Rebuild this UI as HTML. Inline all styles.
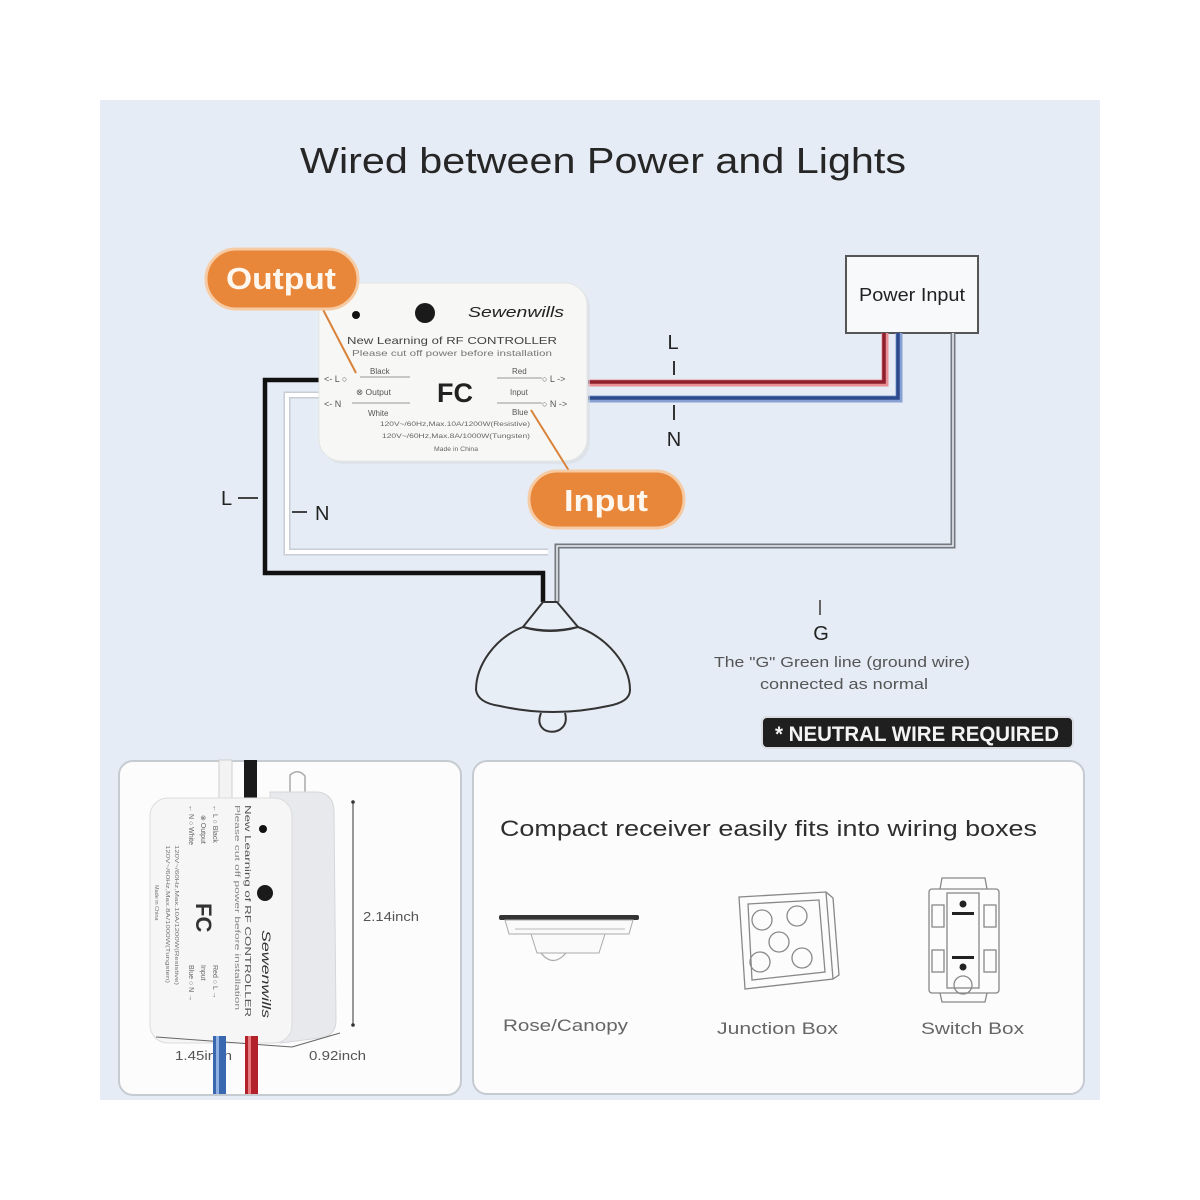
<!DOCTYPE html>
<html><head><meta charset="utf-8"><style>
html,body{margin:0;padding:0;background:#fff;}
svg{display:block;}
text{font-family:"Liberation Sans",sans-serif;}
</style></head><body>
<svg width="1200" height="1200" viewBox="0 0 1200 1200" xmlns="http://www.w3.org/2000/svg">
<rect x="0" y="0" width="1200" height="1200" fill="#ffffff"/>
<rect x="100" y="100" width="1000" height="1000" fill="#e5ecf5"/>

<!-- Title -->
<text x="603" y="173" font-size="36" fill="#262626" text-anchor="middle" textLength="606" lengthAdjust="spacingAndGlyphs">Wired between Power and Lights</text>

<!-- Power Input box -->
<rect x="846" y="256" width="132" height="77" fill="#f8f9fb" stroke="#555" stroke-width="2"/>
<text x="912" y="301" font-size="18" fill="#222" text-anchor="middle" textLength="106" lengthAdjust="spacingAndGlyphs">Power  Input</text>

<!-- Wires -->
<!-- neutral from controller (white) -->
<path d="M322,395 H287 V552 H548" fill="none" stroke="#c9ced6" stroke-width="7"/>
<path d="M322,395 H287 V552 H548" fill="none" stroke="#ffffff" stroke-width="4"/>
<!-- power neutral grey double -->
<path d="M953,333 V546 H557 V602" fill="none" stroke="#737980" stroke-width="5"/>
<path d="M953,333 V546 H557 V602" fill="none" stroke="#eef1f5" stroke-width="1.5"/>
<!-- black L -->
<path d="M322,380 H265 V573 H543 V602" fill="none" stroke="#111" stroke-width="4.5"/>
<!-- red -->
<path d="M588,383 H885 V333" fill="none" stroke="#e98f96" stroke-width="7"/>
<path d="M588,382 H884 V333" fill="none" stroke="#8e1f2c" stroke-width="3.5"/>
<!-- blue -->
<path d="M588,399 H899 V333" fill="none" stroke="#86a1d2" stroke-width="7"/>
<path d="M588,398 H898 V333" fill="none" stroke="#2d4b8c" stroke-width="3.5"/>

<!-- L / N labels right -->
<text x="673" y="349" font-size="20" fill="#222" text-anchor="middle">L</text>
<line x1="674" y1="361" x2="674" y2="375" stroke="#333" stroke-width="2"/>
<line x1="674" y1="405" x2="674" y2="420" stroke="#333" stroke-width="2"/>
<text x="674" y="446" font-size="20" fill="#222" text-anchor="middle">N</text>
<!-- L / N labels left -->
<text x="221" y="505" font-size="20" fill="#222">L</text>
<line x1="238" y1="498" x2="258" y2="498" stroke="#444" stroke-width="2"/>
<line x1="292" y1="512" x2="307" y2="512" stroke="#444" stroke-width="2"/>
<text x="315" y="520" font-size="20" fill="#222">N</text>

<!-- Controller module -->
<rect x="322" y="286" width="268" height="178" rx="22" fill="#d9dde3" opacity="0.6"/>
<rect x="319" y="283" width="268" height="178" rx="22" fill="#f7f7f5" stroke="#e4e4e2" stroke-width="1"/>
<circle cx="356" cy="315" r="4" fill="#111"/>
<circle cx="425" cy="313" r="10" fill="#1a1a1a"/>
<text x="468" y="317" font-size="15" font-style="italic" font-family="Liberation Serif,serif" fill="#222" textLength="96" lengthAdjust="spacingAndGlyphs">Sewenwills</text>
<text x="347" y="344" font-size="10.5" fill="#444" textLength="210" lengthAdjust="spacingAndGlyphs">New Learning of RF CONTROLLER</text>
<text x="352" y="356" font-size="8.5" fill="#777" textLength="200" lengthAdjust="spacingAndGlyphs">Please cut off power before installation</text>
<text x="324" y="382" font-size="9" fill="#555">&lt;- L ○</text>
<text x="370" y="374" font-size="8" fill="#555">Black</text>
<line x1="360" y1="377" x2="410" y2="377" stroke="#777" stroke-width="0.8"/>
<text x="356" y="395" font-size="8.5" fill="#555">⊗ Output</text>
<text x="324" y="407" font-size="9" fill="#555">&lt;- N</text>
<line x1="352" y1="403" x2="410" y2="403" stroke="#777" stroke-width="0.8"/>
<text x="368" y="416" font-size="8" fill="#555">White</text>
<text x="437" y="402" font-size="27" font-weight="bold" fill="#222">FC</text>
<text x="512" y="374" font-size="8" fill="#555">Red</text>
<line x1="497" y1="378" x2="542" y2="378" stroke="#777" stroke-width="0.8"/>
<text x="542" y="382" font-size="9" fill="#555">○ L -&gt;</text>
<text x="510" y="395" font-size="8" fill="#555">Input</text>
<line x1="497" y1="403" x2="542" y2="403" stroke="#777" stroke-width="0.8"/>
<text x="542" y="407" font-size="9" fill="#555">○ N -&gt;</text>
<text x="512" y="415" font-size="8" fill="#555">Blue</text>
<text x="380" y="426" font-size="6.5" fill="#666" textLength="150" lengthAdjust="spacingAndGlyphs">120V~/60Hz,Max.10A/1200W(Resistive)</text>
<text x="382" y="438" font-size="6.5" fill="#666" textLength="148" lengthAdjust="spacingAndGlyphs">120V~/60Hz,Max.8A/1000W(Tungsten)</text>
<text x="434" y="451" font-size="6.5" fill="#666" textLength="44" lengthAdjust="spacingAndGlyphs">Made in China</text>

<!-- Pointers -->
<line x1="318" y1="300" x2="356" y2="373" stroke="#d9823a" stroke-width="2"/>
<line x1="531" y1="410" x2="571" y2="474" stroke="#d9823a" stroke-width="2"/>

<!-- Output bubble -->
<rect x="206" y="249" width="152" height="60" rx="30" fill="#e8863a" stroke="#f6cba4" stroke-width="3"/>
<text x="281" y="289" font-size="31" font-weight="bold" fill="#fff7ee" text-anchor="middle" textLength="110" lengthAdjust="spacingAndGlyphs">Output</text>
<!-- Input bubble -->
<rect x="529" y="471" width="155" height="57" rx="28" fill="#e8863a" stroke="#f6cba4" stroke-width="3"/>
<text x="606" y="511" font-size="31" font-weight="bold" fill="#fff7ee" text-anchor="middle" textLength="84" lengthAdjust="spacingAndGlyphs">Input</text>

<!-- Lamp -->
<path d="M543,602 L557,602 L578,627 Q550,634 523,627 Z" fill="#e8eef6" stroke="#333" stroke-width="2" stroke-linejoin="round"/>
<path d="M523,627 C495,638 476,665 476,690 Q478,703 500,706 Q553,718 608,706 Q630,702 630,690 C630,665 608,638 578,627 Q550,635 523,627 Z" fill="#e8eef6" stroke="#333" stroke-width="2"/>
<path d="M541,713 C531,738 572,738 565,713" fill="#e8eef6" stroke="#333" stroke-width="2"/>

<!-- Ground -->
<line x1="820" y1="600" x2="820" y2="615" stroke="#666" stroke-width="2"/>
<text x="821" y="640" font-size="20" fill="#222" text-anchor="middle">G</text>
<text x="842" y="667" font-size="15" fill="#555" text-anchor="middle" textLength="256" lengthAdjust="spacingAndGlyphs">The "G" Green line (ground wire)</text>
<text x="844" y="689" font-size="15" fill="#555" text-anchor="middle" textLength="168" lengthAdjust="spacingAndGlyphs">connected as normal</text>

<!-- Neutral badge -->
<rect x="762" y="717" width="311" height="31" rx="5" fill="#1f1f1f" stroke="#d9dde2" stroke-width="2"/>
<text x="917" y="741" font-size="21" font-weight="bold" fill="#f4f4f4" text-anchor="middle" textLength="284" lengthAdjust="spacingAndGlyphs">* NEUTRAL WIRE REQUIRED</text>

<!-- Bottom cards -->
<rect x="119" y="761" width="342" height="334" rx="14" fill="#fcfcfd" stroke="#c6cbd2" stroke-width="2"/>
<rect x="473" y="761" width="611" height="333" rx="14" fill="#fcfcfd" stroke="#c6cbd2" stroke-width="2"/>

<!-- Left card: module photo -->
<rect x="219" y="760" width="13" height="44" fill="#f3f3f3" stroke="#cfcfcf" stroke-width="1"/>
<rect x="244" y="760" width="13" height="44" fill="#1a1a1a"/>
<path d="M290,795 L290,775 Q298,768 305,776 L305,795" fill="none" stroke="#aaa" stroke-width="1.5"/>
<path d="M270,792 L318,792 Q334,794 334,812 L336,1020 Q336,1036 320,1038 L280,1043 Z" fill="#e8e9ec" stroke="#d6d7da" stroke-width="1"/>
<rect x="150" y="798" width="142" height="245" rx="18" fill="#f6f6f6" stroke="#dcdcdc" stroke-width="1"/>
<circle cx="263" cy="829" r="4" fill="#111"/>
<circle cx="265" cy="893" r="8" fill="#1a1a1a"/>
<g transform="translate(275,805) rotate(90)">
<text x="125" y="13" font-size="12" font-style="italic" font-family="Liberation Serif,serif" fill="#333" textLength="88" lengthAdjust="spacingAndGlyphs">Sewenwills</text>
<text x="0" y="30" font-size="8.5" fill="#555" textLength="212" lengthAdjust="spacingAndGlyphs">New Learning of RF CONTROLLER</text>
<text x="0" y="40" font-size="7" fill="#888" textLength="205" lengthAdjust="spacingAndGlyphs">Please cut off power before installation</text>
<text x="0" y="62" font-size="7" fill="#666">← L ○ Black</text>
<text x="10" y="74" font-size="7" fill="#666">⊗ Output</text>
<text x="0" y="86" font-size="7" fill="#666">← N ○ White</text>
<text x="98" y="79" font-size="22" font-weight="bold" fill="#333">FC</text>
<text x="160" y="62" font-size="7" fill="#666">Red ○ L →</text>
<text x="160" y="74" font-size="7" fill="#666">Input</text>
<text x="160" y="86" font-size="7" fill="#666">Blue ○ N →</text>
<text x="40" y="100" font-size="5.5" fill="#777" textLength="140" lengthAdjust="spacingAndGlyphs">120V~/60Hz,Max.10A/1200W(Resistive)</text>
<text x="40" y="109" font-size="5.5" fill="#777" textLength="138" lengthAdjust="spacingAndGlyphs">120V~/60Hz,Max.8A/1000W(Tungsten)</text>
<text x="80" y="120" font-size="5.5" fill="#777">Made in China</text>
</g>
<!-- dimensions -->
<line x1="353" y1="802" x2="353" y2="1025" stroke="#555" stroke-width="1.2"/>
<circle cx="353" cy="802" r="1.8" fill="#333"/>
<circle cx="353" cy="1025" r="1.8" fill="#333"/>
<text x="363" y="921" font-size="13" fill="#555" textLength="56" lengthAdjust="spacingAndGlyphs">2.14inch</text>
<line x1="156" y1="1037" x2="292" y2="1047" stroke="#666" stroke-width="1"/>
<line x1="292" y1="1047" x2="340" y2="1033" stroke="#666" stroke-width="1"/>
<text x="175" y="1060" font-size="13" fill="#555" textLength="57" lengthAdjust="spacingAndGlyphs">1.45inch</text>
<text x="309" y="1060" font-size="13" fill="#555" textLength="57" lengthAdjust="spacingAndGlyphs">0.92inch</text>
<rect x="213" y="1036" width="13" height="58" fill="#3a68b0"/>
<rect x="216" y="1036" width="3" height="58" fill="#8fb0e0"/>
<rect x="245" y="1036" width="13" height="58" fill="#b3222a"/>
<rect x="248" y="1036" width="3" height="58" fill="#e57a7f"/>

<!-- Right card -->
<text x="500" y="836" font-size="22.5" fill="#2e2e2e" textLength="537" lengthAdjust="spacingAndGlyphs">Compact receiver easily fits into wiring boxes</text>

<!-- Rose/Canopy icon -->
<rect x="499" y="915" width="140" height="5" rx="2" fill="#333"/>
<path d="M505,920 L633,920 L629,934 L509,934 Z" fill="#fafafa" stroke="#aaa" stroke-width="1"/>
<line x1="515" y1="929" x2="625" y2="929" stroke="#bbb" stroke-width="1"/>
<path d="M531,934 L605,934 L599,953 L537,953 Z" fill="#fafafa" stroke="#aaa" stroke-width="1"/>
<path d="M541,953 Q553,968 566,953" fill="none" stroke="#aaa" stroke-width="1.2"/>
<text x="503" y="1031" font-size="17" fill="#666" textLength="125" lengthAdjust="spacingAndGlyphs">Rose/Canopy</text>

<!-- Junction box icon -->
<g fill="none" stroke="#888" stroke-width="1.3">
<path d="M739,897 L826,892 L833,979 L745,989 Z"/>
<path d="M748,904 L819,900 L825,972 L752,980 Z"/>
<path d="M826,892 L833,898 L839,975 L833,979"/>
<circle cx="762" cy="920" r="10"/>
<circle cx="797" cy="916" r="10"/>
<circle cx="779" cy="942" r="10"/>
<circle cx="760" cy="962" r="10"/>
<circle cx="802" cy="958" r="10"/>
</g>
<text x="717" y="1034" font-size="17" fill="#666" textLength="121" lengthAdjust="spacingAndGlyphs">Junction Box</text>

<!-- Switch box icon -->
<g fill="none" stroke="#888" stroke-width="1.3">
<rect x="929" y="889" width="70" height="104" rx="3"/>
<path d="M940,889 L942,878 L985,878 L987,889"/>
<path d="M940,993 L942,1002 L985,1002 L987,993"/>
<rect x="947" y="893" width="32" height="95"/>
<rect x="932" y="905" width="12" height="22"/>
<rect x="932" y="950" width="12" height="22"/>
<rect x="984" y="905" width="12" height="22"/>
<rect x="984" y="950" width="12" height="22"/>
<circle cx="963" cy="985" r="9"/>
</g>
<circle cx="963" cy="904" r="3.5" fill="#222"/>
<circle cx="963" cy="967" r="3.5" fill="#222"/>
<rect x="952" y="912" width="22" height="3" fill="#222"/>
<rect x="952" y="956" width="22" height="3" fill="#222"/>
<text x="921" y="1034" font-size="17" fill="#666" textLength="103" lengthAdjust="spacingAndGlyphs">Switch Box</text>
</svg>
</body></html>
